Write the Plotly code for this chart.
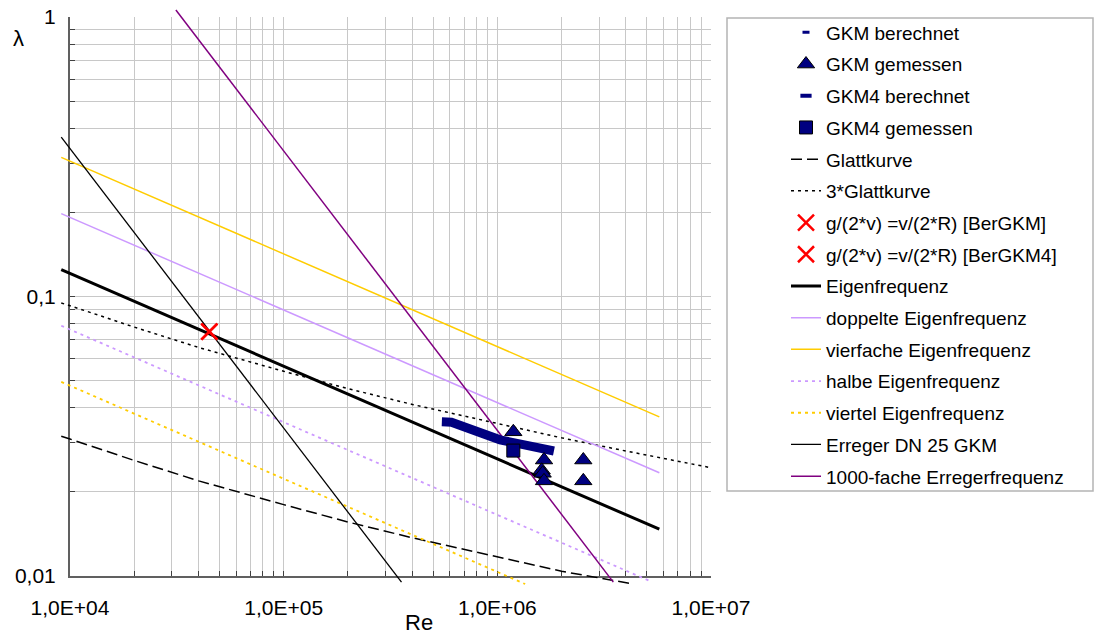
import math
import plotly.graph_objects as go

# ---------------- data ----------------
re_glatt = [9.1e3, 1e4, 2e4, 4e4, 1e5, 2e5, 4e5, 1e6, 2e6, 4.2e6]
lam_glatt = [0.0316, 0.0309, 0.0259, 0.0219, 0.0180, 0.0156, 0.0137, 0.0117, 0.0104, 0.0094]

re_glatt3 = [9.1e3, 1e4, 2e4, 4e4, 1e5, 2e5, 4e5, 1e6, 2e6, 4e6, 1e7]
lam_glatt3 = [0.0948, 0.0927, 0.0777, 0.0657, 0.0540, 0.0468, 0.0411, 0.0351, 0.0312, 0.0280, 0.0244]

re_eigen = [9.1e3, 5.73e6]
lam_eigen = [0.1248, 0.0147]
re_doppelt = [9.1e3, 5.73e6]
lam_doppelt = [0.198, 0.0234]
re_vierfach = [9.1e3, 5.73e6]
lam_vierfach = [0.3145, 0.0371]
re_halb = [9.1e3, 5.3e6]
lam_halb = [0.0786, 0.00952]
re_viertel = [9.1e3, 1.35e6]
lam_viertel = [0.0495, 0.00936]

re_erreger = [9.1e3, 3.56e5]
lam_erreger = [0.372, 0.0095]
re_erreger1000 = [3.13e4, 3.49e6]
lam_erreger1000 = [1.06, 0.00951]

re_gkm_ber = [7.0e5, 1.2e6]
lam_gkm_ber = [0.0343, 0.0300]
re_gkm_gem = [1.188e6, 1.654e6, 1.613e6, 1.63e6, 1.654e6, 2.526e6, 2.526e6]
lam_gkm_gem = [0.0328, 0.0260, 0.0239, 0.0233, 0.0219, 0.0260, 0.0219]

re_gkm4_ber = [5.5e5, 6.1e5, 1.03e6, 1.84e6]
lam_gkm4_ber = [0.0356, 0.0355, 0.0307, 0.0280]
re_gkm4_gem = [1.188e6]
lam_gkm4_gem = [0.0281]

re_ber_gkm = [4.49e4]
lam_ber_gkm = [0.0748]
re_ber_gkm4 = [4.49e4]
lam_ber_gkm4 = [0.0748]

x_tick_labels = ["1,0E+04", "1,0E+05", "1,0E+06", "1,0E+07"]
y_tick_labels = ["0,01", "0,1", "1"]

# ---------------- layout geometry (page pixel coordinates) ----------------
FONT = "Liberation Sans, Arial, sans-serif"
NAVY = "#000080"
LAV = "#cc99ff"
GOLD = "#ffcc00"
PURPLE = "#800080"
GRID = "#c8c8c8"

W, H = 1096, 637
X0, X1 = 70, 711      # visible plot area (page px)
Y0, Y1 = 17, 576
OL, OR_, OT, OB = 55, 720, 3, 592   # larger drawing area so lines can overflow like the original
pw, ph = OR_ - OL, OB - OT
xdec = (X1 - X0) / 3.0
ydec = (Y1 - Y0) / 2.0


def px(p):
    return (p - OL) / pw


def py(q):
    return (OB - q) / ph


def is_decade(v):
    lv = math.log10(v)
    return abs(lv - round(lv)) < 1e-9


x_tickvals = [m * 10 ** k for k in (4, 5, 6) for m in range(1, 10)] + [1e7]
x_ticktext = [x_tick_labels[int(round(math.log10(v))) - 4] if is_decade(v) else "" for v in x_tickvals]
y_tickvals = [m * 10.0 ** k for k in (-2, -1) for m in range(1, 10)] + [1]
y_ticktext = [y_tick_labels[int(round(math.log10(v))) + 2] if is_decade(v) else "" for v in y_tickvals]

fig = go.Figure()

# dummy trace so that the visible axes subplot exists
fig.add_trace(go.Scatter(x=[None], y=[None], xaxis="x", yaxis="y", showlegend=False, hoverinfo="skip"))


def line_trace(x, y, name, color, width, dash="solid", rank=1):
    return go.Scatter(x=x, y=y, name=name, mode="lines", xaxis="x2", yaxis="y2",
                      line=dict(color=color, width=width, dash=dash),
                      legendgroup=name, legendrank=rank)


fig.add_trace(line_trace(re_glatt, lam_glatt, "Glattkurve", "black", 1.5, "11px,5px", 5))
fig.add_trace(line_trace(re_glatt3, lam_glatt3, "3*Glattkurve", "black", 1.5, "3px,4px", 6))
fig.add_trace(line_trace(re_eigen, lam_eigen, "Eigenfrequenz", "black", 3, "solid", 9))
fig.add_trace(line_trace(re_doppelt, lam_doppelt, "doppelte Eigenfrequenz", LAV, 1.5, "solid", 10))
fig.add_trace(line_trace(re_vierfach, lam_vierfach, "vierfache Eigenfrequenz", GOLD, 1.5, "solid", 11))
fig.add_trace(line_trace(re_halb, lam_halb, "halbe Eigenfrequenz", LAV, 1.8, "3px,4px", 12))
fig.add_trace(line_trace(re_viertel, lam_viertel, "viertel Eigenfrequenz", GOLD, 1.8, "3px,4px", 13))
fig.add_trace(line_trace(re_erreger, lam_erreger, "Erreger DN 25 GKM", "black", 1.3, "solid", 14))
fig.add_trace(line_trace(re_erreger1000, lam_erreger1000, "1000-fache Erregerfrequenz", PURPLE, 1.5, "solid", 15))

# GKM4 berechnet: thick band (drawn) + legend symbol
fig.add_trace(go.Scatter(x=re_gkm4_ber, y=lam_gkm4_ber, mode="lines", xaxis="x2", yaxis="y2",
                         line=dict(color=NAVY, width=9), showlegend=False,
                         legendgroup="GKM4 berechnet", hoverinfo="skip"))
fig.add_trace(go.Scatter(x=[None], y=[None], mode="markers", name="GKM4 berechnet", xaxis="x2", yaxis="y2",
                         marker=dict(symbol="line-ew", size=8, color=NAVY, line=dict(width=4, color=NAVY)),
                         legendgroup="GKM4 berechnet", legendrank=3))

fig.add_trace(go.Scatter(x=re_gkm_ber, y=lam_gkm_ber, mode="markers", name="GKM berechnet", xaxis="x2", yaxis="y2",
                         marker=dict(symbol="line-ew", size=5, color=NAVY, line=dict(width=3, color=NAVY)),
                         legendgroup="GKM berechnet", legendrank=1))
fig.add_trace(go.Scatter(x=re_gkm_gem, y=lam_gkm_gem, mode="markers", name="GKM gemessen", xaxis="x2", yaxis="y2",
                         marker=dict(symbol="triangle-up", size=15, color=NAVY, line=dict(width=1, color="black")),
                         legendgroup="GKM gemessen", legendrank=2))
fig.add_trace(go.Scatter(x=re_gkm4_gem, y=lam_gkm4_gem, mode="markers", name="GKM4 gemessen", xaxis="x2", yaxis="y2",
                         marker=dict(symbol="square", size=13, color=NAVY, line=dict(width=1, color="black")),
                         legendgroup="GKM4 gemessen", legendrank=4))
fig.add_trace(go.Scatter(x=re_ber_gkm, y=lam_ber_gkm, mode="markers", name="g/(2*v) =v/(2*R) [BerGKM]",
                         xaxis="x2", yaxis="y2",
                         marker=dict(symbol="x-thin", size=16, color="red", line=dict(width=2.5, color="red")),
                         legendgroup="BerGKM", legendrank=7))
fig.add_trace(go.Scatter(x=re_ber_gkm4, y=lam_ber_gkm4, mode="markers", name="g/(2*v) =v/(2*R) [BerGKM4]",
                         xaxis="x2", yaxis="y2",
                         marker=dict(symbol="x-thin", size=16, color="red", line=dict(width=2.5, color="red")),
                         legendgroup="BerGKM4", legendrank=8))

axis_common = dict(type="log", showgrid=True, gridcolor=GRID, gridwidth=1, zeroline=False,
                   showline=True, linecolor="#606060", linewidth=2, ticks="inside", ticklen=5,
                   tickcolor="#404040", tickwidth=1, tickfont=dict(family=FONT, size=21, color="black"),
                   mirror=False, tickmode="array", automargin=False, ticklabeloverflow="allow")

fig.update_layout(
    width=W, height=H, autosize=False,
    margin=dict(l=OL, r=W - OR_, t=OT, b=H - OB, pad=0, autoexpand=False),
    paper_bgcolor="white", plot_bgcolor="rgba(0,0,0,0)",
    font=dict(family=FONT, size=19, color="black"),
    xaxis=dict(axis_common, range=[4, 7], domain=[px(X0), px(X1)], anchor="y",
               tickvals=x_tickvals, ticktext=x_ticktext, ticklabelstandoff=12),
    yaxis=dict(axis_common, range=[-2, 0], domain=[py(Y1), py(Y0)], anchor="x",
               tickvals=y_tickvals, ticktext=y_ticktext, ticklabelstandoff=8),
    xaxis2=dict(type="log", range=[4 - (X0 - OL) / xdec, 7 + (OR_ - X1) / xdec], domain=[0, 1],
                anchor="y2", visible=False),
    yaxis2=dict(type="log", range=[-2 - (OB - Y1) / ydec, (Y0 - OT) / ydec], domain=[0, 1],
                anchor="x2", visible=False),
    showlegend=True,
    legend=dict(x=px(786), y=py(13.5), xanchor="left", yanchor="top",
                font=dict(family=FONT, size=19, color="black"),
                bgcolor="rgba(0,0,0,0)", borderwidth=0, tracegroupgap=4,
                traceorder="grouped", itemwidth=30),
    shapes=[dict(type="rect", xref="paper", yref="paper", x0=px(727), x1=px(1093), y0=py(491), y1=py(18),
                 line=dict(color="#b4b4b4", width=1.5), fillcolor="rgba(0,0,0,0)", layer="below")],
    annotations=[
        dict(text="λ", xref="paper", yref="paper", x=px(18), y=py(38), showarrow=False,
             font=dict(family=FONT, size=22, color="black"), xanchor="center", yanchor="middle"),
        dict(text="Re", xref="paper", yref="paper", x=px(419), y=py(622), showarrow=False,
             font=dict(family=FONT, size=22, color="black"), xanchor="center", yanchor="middle"),
    ],
    hovermode=False,
)

# remove the default page margin so the figure sits at the window's top-left corner
fig.write_html("out.html", config={"displayModeBar": False},
               post_script="document.body.style.margin='0';")
